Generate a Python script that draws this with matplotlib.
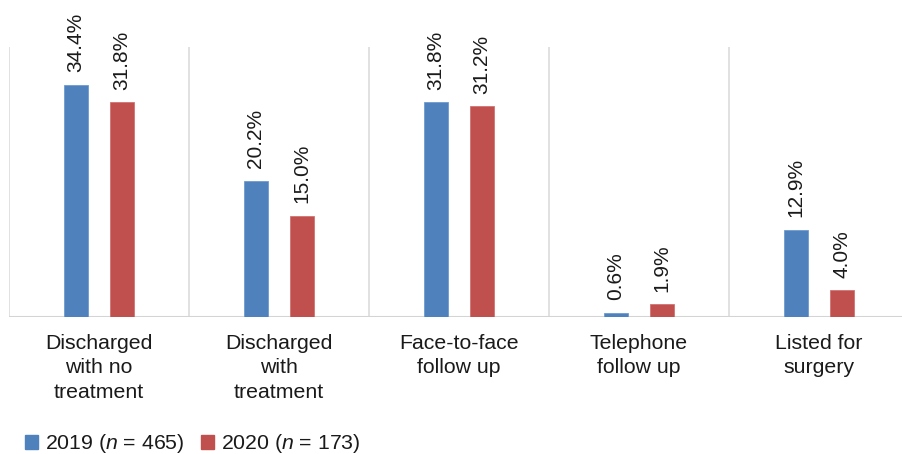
import numpy as np
import matplotlib.pyplot as plt
from matplotlib.patches import Patch

plt.rcParams['font.family'] = ['Liberation Sans', 'DejaVu Sans']
plt.rcParams['mathtext.fontset'] = 'custom'
plt.rcParams['mathtext.rm'] = 'Liberation Sans'
plt.rcParams['mathtext.it'] = 'Liberation Sans:italic'

categories = ['Discharged\nwith no\ntreatment', 'Discharged\nwith\ntreatment',
              'Face-to-face\nfollow up', 'Telephone\nfollow up', 'Listed for\nsurgery']
pct_2019 = [34.4, 20.2, 31.8, 0.6, 12.9]
pct_2020 = [31.8, 15.0, 31.2, 1.9, 4.0]
series_labels = [r'2019 ($n$ = 465)', r'2020 ($n$ = 173)']

blue = '#4F81BD'
red = '#C0504D'
txt = '#1a1a1a'

fig = plt.figure(figsize=(9.02, 4.54), dpi=100)
ax = fig.add_axes([9 / 902, 137 / 454, 900 / 902, 270 / 454])

x = np.arange(len(categories))
w = 0.133
off = 0.128
b1 = ax.bar(x - off, pct_2019, w, color=blue, edgecolor='#6f9bd0', linewidth=0.6, zorder=3)
b2 = ax.bar(x + off, pct_2020, w, color=red, edgecolor='#d27371', linewidth=0.6, zorder=3)

for bars, vals in ((b1, pct_2019), (b2, pct_2020)):
    for rect, v in zip(bars, vals):
        ax.annotate(f'{v:.1f}%', (rect.get_x() + rect.get_width() / 2, v),
                    xytext=(0, 9), textcoords='offset points',
                    rotation=90, ha='center', va='bottom', fontsize=15, color=txt)

ax.set_xlim(-0.5, len(categories) - 0.5)
ax.set_ylim(0, 40)

# category separators
for b in np.arange(len(categories) + 1) - 0.5:
    ax.axvline(b, color='#dcdcdc', linewidth=1.2, zorder=1)

for s in ax.spines.values():
    s.set_visible(False)
ax.axhline(0, color='#d4d4d4', linewidth=1.5, zorder=2)

ax.set_yticks([])
ax.set_xticks(x)
ax.set_xticklabels(categories, fontsize=15.3, color=txt, linespacing=1.38)
ax.tick_params(axis='x', length=0, pad=12)

handles = [Patch(color=blue), Patch(color=red)]
fig.legend(handles, series_labels, loc='lower left', bbox_to_anchor=(12 / 902, -0.031),
           ncol=2, frameon=False, fontsize=15.3, handlelength=0.62, handleheight=0.62,
           handletextpad=0.35, columnspacing=0.75, borderaxespad=0.2, labelcolor=txt)

fig.savefig('out.png', dpi=100)
